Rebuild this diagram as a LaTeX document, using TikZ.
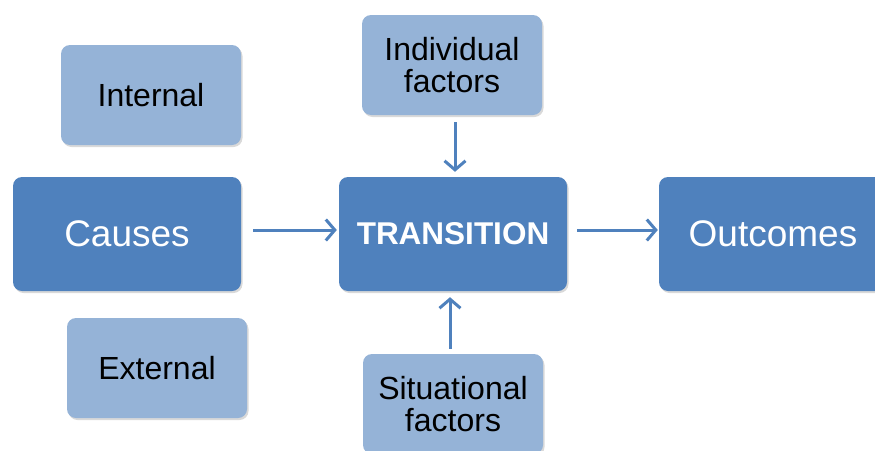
\documentclass[tikz,border=0pt]{standalone}
\usepackage{fontspec}
\setmainfont{Liberation Sans}
\usepackage{tikz}
\usetikzlibrary{arrows.meta,shadows}
\definecolor{darkbox}{HTML}{4F81BD}
\definecolor{lightbox}{HTML}{95B3D7}
\tikzset{>={Straight Barb[length=9pt,width=21pt]}}
\tikzset{
  mainbox/.style={fill=darkbox, text=white, rounded corners=9pt, minimum width=228pt, minimum height=114pt,
    drop shadow={shadow xshift=1.5pt, shadow yshift=-2pt, opacity=0.3}},
  sidebox/.style={fill=lightbox, text=black, rounded corners=9pt, minimum width=180pt, minimum height=100pt,
    align=center, font=\fontsize{32}{32}\selectfont,
    drop shadow={shadow xshift=1.5pt, shadow yshift=-2pt, opacity=0.3}},
  flow/.style={->, draw=darkbox, line width=3pt}
}

\begin{document}
\begin{tikzpicture}[x=1pt, y=-1pt]

  \useasboundingbox (0,0) rectangle (875,450);

  % main row
  \node[mainbox, font=\fontsize{37}{40}\selectfont] (causes) at (127,234) {Causes};
  \node[mainbox, font=\fontsize{31.5}{34}\selectfont\bfseries] (trans) at (453,234) {TRANSITION};
  \node[mainbox, font=\fontsize{37}{40}\selectfont] (out) at (773,234) {Outcomes};

  % side boxes
  \node[sidebox] (internal) at (151,95) {Internal};
  \node[sidebox] (external) at (157,368) {External};
  \node[sidebox] (indiv) at (452,65) {Individual\\factors};
  \node[sidebox] (situ) at (453,404) {Situational\\factors};

  % arrows
  \draw[flow, shorten <=12pt, shorten >=2pt] ([yshift=4pt]causes.east) -- ([yshift=4pt]trans.west);
  \draw[flow, shorten <=10pt, shorten >=1pt] ([yshift=4pt]trans.east) -- ([yshift=4pt]out.west);
  \draw[flow, shorten <=7pt, shorten >=5pt] ([xshift=3pt]indiv.south) -- ([xshift=2pt]trans.north);
  \draw[flow, shorten <=5pt, shorten >=6pt] ([xshift=-3pt]situ.north) -- ([xshift=-3pt]trans.south);

\end{tikzpicture}
\end{document}
